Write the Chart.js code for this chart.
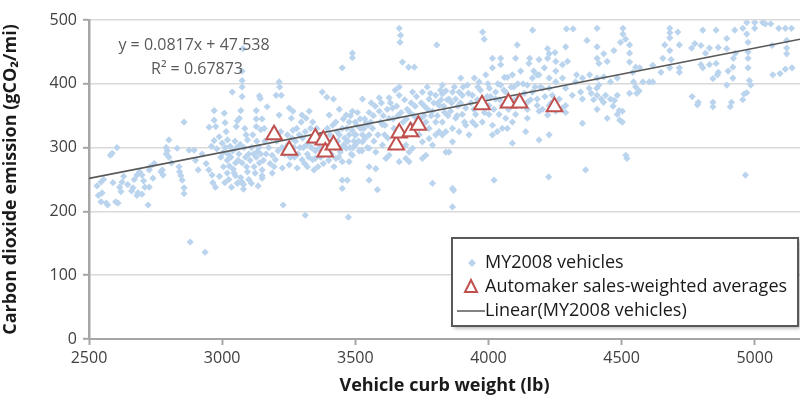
<!DOCTYPE html>
<html>
<head>
<meta charset="utf-8">
<script src="https://cdn.jsdelivr.net/npm/chart.js@4.4.1/dist/chart.umd.min.js"></script>
<style>
  html, body { margin: 0; padding: 0; background: #fff; }
  #wrap { width: 800px; height: 402px; }
</style>
</head>
<body>
<div id="wrap"><canvas id="chart" width="800" height="402"></canvas></div>
<script>
// MY2008 vehicles: [curb weight (lb), CO2 (g/mi)]
const vehicles = [
  [2530,240],[2535,225],[2545,246],[2545,215],[2549,229],[2555,250],[2565,213],[2570,210],[2580,288],[2587,291],
  [2590,245],[2600,215],[2605,300],[2609,213],[2615,238],[2620,231],[2624,246],[2630,255],[2645,242],[2660,232],
  [2665,237],[2670,250],[2680,257],[2680,225],[2684,229],[2690,262],[2699,257],[2699,227],[2705,248],[2710,238],
  [2722,210],[2726,238],[2726,265],[2730,270],[2740,252],[2745,275],
  [2770,262],[2775,265],[2778,257],[2790,300],[2790,290],[2794,295],[2800,285],[2800,312],[2810,276],[2831,299],
  [2838,270],[2840,262],[2845,256],[2850,249],[2857,237],[2857,228],[2857,340],[2876,296],[2880,152],[2895,296],
  [2900,280],[2910,265],[2925,290],[2936,136],[2940,275],[2950,265],[2951,332],[2960,302],[2962,257],
  [2965,245],[2970,358],[2970,343],[2970,311],[2975,238],[2976,333],[2980,298],[2989,317],[2990,255],[3000,307],
  [3005,270],[3008,354],[3010,245],[3011,339],[3019,280],[3019,260],[3020,312],[3025,250],[3027,271],[3030,302],
  [3035,238],[3038,387],[3042,266],[3045,260],[3050,276],[3050,256],[3053,333],[3057,342],[3057,244],[3060,280],
  [3060,245],[3065,346],[3070,358],[3070,253],[3075,420],[3075,405],[3075,395],[3075,380],[3075,276],[3075,246],
  [3078,455],[3080,242],[3080,235],[3085,330],[3090,320],[3095,312],[3095,262],[3100,250],[3100,290],[3110,244],
  [3110,300],[3120,270],[3124,260],[3128,358],[3128,345],[3128,333],[3128,285],[3133,294],[3135,240],[3140,381],
  [3140,276],[3143,377],[3145,328],[3150,345],[3150,265],[3150,256],[3150,252],
  [2995,285],[3003,292],[3012,300],[3015,325],[3022,290],[3033,285],[3040,295],[3048,310],[3055,300],[3063,290],
  [3068,305],[3082,300],[3088,285],[3092,270],[3105,280],[3115,320],[3118,290],[3130,310],[3138,300],[3145,290],
  [3155,280],[3158,330],
  [3160,310],[3165,290],[3169,364],[3175,300],[3180,275],[3188,288],[3188,260],[3195,270],[3200,281],[3203,382],
  [3210,295],[3214,403],[3214,351],[3216,395],[3222,382],[3226,268],[3229,210],[3240,300],[3245,320],[3252,362],
  [3252,273],[3255,285],[3260,346],[3260,286],[3266,357],[3266,327],[3270,300],[3275,310],[3282,268],[3285,290],
  [3290,320],[3297,340],[3300,351],[3300,281],[3305,300],[3310,275],[3312,194],[3315,346],[3320,270],[3320,290],
  [3327,357],[3330,310],[3335,300],[3340,340],[3340,281],[3345,265],[3350,283],[3350,295],
  [3185,315],[3195,330],[3205,310],[3220,325],[3225,300],[3235,290],[3248,305],[3262,315],[3272,285],[3280,330],
  [3292,300],[3302,315],[3312,325],[3318,305],[3325,285],[3332,330],[3342,310],[3348,320],
  [3355,330],[3360,270],[3364,299],[3370,285],[3376,387],[3376,293],[3380,275],[3390,305],[3393,379],[3400,280],
  [3402,351],[3405,320],[3410,290],[3418,376],[3420,270],[3427,340],[3427,283],[3435,310],[3440,360],[3440,320],
  [3444,293],[3450,300],[3451,425],[3451,330],[3451,278],[3451,249],[3451,236],[3460,315],[3466,351],[3466,299],
  [3470,249],[3474,191],[3477,340],[3477,320],[3477,278],[3480,300],[3485,290],[3489,448],[3489,441],[3489,357],
  [3489,327],[3489,288],[3495,310],[3500,304],[3500,340],[3502,320],[3508,355],[3515,295],[3520,330],[3527,376],
  [3527,320],[3527,309],[3535,345],[3540,339],[3545,300],
  [3358,312],[3368,300],[3372,320],[3385,290],[3395,330],[3398,300],[3412,310],[3415,335],[3425,300],[3432,325],
  [3438,285],[3455,345],[3458,305],[3468,330],[3472,310],[3482,350],[3492,300],[3498,320],[3505,335],[3512,310],
  [3518,345],[3525,295],[3532,330],[3538,315],[3548,335],
  [3552,355],[3552,320],[3552,299],[3552,270],[3552,249],[3560,370],[3565,330],[3570,310],[3577,293],[3577,267],
  [3583,234],[3590,378],[3590,357],[3595,340],[3602,336],[3602,304],[3610,320],[3615,283],[3620,360],[3627,346],
  [3627,378],[3627,288],[3635,300],[3640,362],[3645,330],[3650,390],[3660,350],[3665,382],[3665,395],[3665,278],
  [3665,487],[3670,476],[3668,465],[3677,434],[3680,340],[3690,304],[3690,283],[3695,360],[3700,426],[3702,293],
  [3702,278],[3710,370],[3715,387],[3715,299],[3720,350],[3722,426],[3730,380],[3740,330],[3740,320],[3745,345],
  [3558,340],[3568,350],[3575,365],[3585,320],[3598,370],[3605,350],[3612,335],[3622,315],[3632,370],[3642,345],
  [3655,365],[3672,355],[3685,375],[3692,345],[3705,355],[3712,335],[3725,365],[3732,345],[3748,370],
  [3752,387],[3752,309],[3752,283],[3760,365],[3765,340],[3765,288],[3770,395],[3777,376],[3777,330],[3777,314],
  [3785,350],[3790,357],[3790,304],[3790,244],[3802,382],[3802,340],[3802,320],[3806,461],[3810,370],[3815,366],
  [3815,325],[3820,390],[3827,398],[3827,340],[3827,320],[3827,384],[3835,355],[3840,389],[3840,325],[3840,293],
  [3845,375],[3852,376],[3852,293],[3858,357],[3865,387],[3865,330],[3865,309],[3865,236],[3865,207],[3869,233],
  [3877,376],[3877,346],[3885,365],[3890,387],[3890,325],[3896,409],[3902,382],[3902,352],[3910,340],[3915,362],
  [3915,335],[3921,398],[3927,320],[3935,370],[3940,382],[3940,340],[3947,409],
  [3758,350],[3772,360],[3782,385],[3795,370],[3808,350],[3822,375],[3832,365],[3848,350],[3862,370],[3872,395],
  [3882,350],[3895,370],[3905,395],[3925,385],[3945,360],
  [3952,352],[3952,335],[3960,395],[3965,403],[3965,371],[3977,340],[3978,481],[3984,470],[3990,414],[3995,380],
  [4002,366],[4002,352],[4004,393],[4015,425],[4015,440],[4015,335],[4015,320],[4021,249],[4027,387],[4027,376],
  [4033,325],[4040,352],[4046,440],[4046,430],[4046,398],[4052,366],[4052,330],[4060,410],[4065,387],[4065,346],
  [4071,410],[4071,330],[4080,370],[4090,414],[4090,340],[4090,307],[4095,395],[4102,440],[4102,352],[4108,461],
  [4115,380],[4121,420],[4130,400],[4140,325],[4146,398],[4146,371],[4146,360],[4146,346],
  [3958,375],[3970,390],[3985,355],[3998,400],[4008,380],[4020,360],[4035,400],[4042,375],[4058,390],[4075,360],
  [4085,395],[4098,375],[4110,400],[4125,365],[4135,385],[4158,375],[4170,420],[4195,395],[4212,380],[4235,370],
  [4152,432],[4155,440],[4165,409],[4165,387],[4166,484],[4175,395],[4183,414],[4183,376],[4183,366],[4190,438],
  [4190,414],[4190,357],[4190,312],[4203,393],[4203,360],[4210,425],[4222,455],[4222,440],[4222,351],[4226,254],
  [4228,447],[4228,409],[4228,393],[4228,366],[4228,320],[4240,382],[4250,449],[4253,435],[4253,420],[4253,403],
  [4253,357],[4266,376],[4278,430],[4278,409],[4278,362],[4290,458],[4290,393],[4290,366],[4290,355],[4293,486],
  [4297,435],[4315,382],[4318,486],[4327,403],[4331,414],[4346,387],
  [4353,409],[4353,376],[4353,338],[4365,265],[4370,468],[4378,393],[4380,414],[4386,385],[4395,375],[4407,393],
  [4408,487],[4408,458],[4408,440],[4408,409],[4408,382],[4408,360],[4415,432],[4415,398],[4424,376],[4432,371],
  [4433,447],[4433,411],[4440,382],[4446,435],[4446,346],[4458,403],[4458,376],[4468,365],[4471,452],[4473,374],
  [4484,409],[4484,382],[4484,352],[4491,358],[4493,343],[4496,465],[4503,357],[4503,340],[4505,487],[4505,478],
  [4515,470],[4516,288],[4520,283],[4530,461],[4530,448],[4530,434],[4530,385],[4542,418],[4545,403],
  [4553,426],[4553,395],[4557,385],[4566,389],[4568,425],[4580,403],[4604,403],[4617,429],[4617,403],[4648,418],
  [4655,440],[4662,461],[4681,487],[4681,480],[4681,472],[4681,452],[4686,438],[4681,425],[4711,481],[4717,461],
  [4717,425],[4717,418],[4763,456],[4765,380],[4775,463],[4785,367],[4788,371],[4798,460],[4798,430],
  [4805,484],[4805,425],[4815,448],[4830,456],[4830,430],[4843,408],[4843,371],[4843,364],[4855,484],[4855,432],
  [4860,414],[4863,457],[4863,418],[4895,471],[4895,455],[4895,398],[4900,420],[4908,364],[4913,371],[4918,426],
  [4918,409],[4920,440],[4925,484],[4928,448],[4955,487],[4955,375],[4960,384],[4965,257],[4970,496],[4970,478],
  [4970,386],[4975,465],[4975,450],[4975,440],[4975,425],[4980,405],[4985,398],[5000,487],[5000,496],[5030,496],
  [5040,494],[5060,494],[5065,460],[5068,414],[5090,487],[5095,416],[5115,487],[5115,423],[5120,468],[5120,456],
  [5120,447],[5138,487],[5140,425]
];

// automaker sales-weighted averages
const makerWeight = [3195, 3252, 3350, 3380, 3387, 3418, 3654, 3665, 3707, 3737, 3976, 4075, 4117, 4248];
const makerCO2 = [320, 296, 315, 312, 293, 304, 304, 323, 325, 335, 367, 370, 370, 364];

// trendline from the fitted equation
const slope = 0.0817;
const intercept = 47.538;
const trendX = [2500, 5170];
const eqLines = ["y = 0.0817x + 47.538", "R\u00b2 = 0.67873"];

const xTicks = [2500, 3000, 3500, 4000, 4500, 5000];
const legendLabels = ["MY2008 vehicles", "Automaker sales-weighted averages", "Linear(MY2008 vehicles)"];

const FONT = "'Open Sans', 'Liberation Sans', sans-serif";
const BLUE = "#bad4ee";
const RED = "#c0504d";
const GREY = "#595959";

const overlay = {
  id: "overlay",
  afterDatasetsDraw(chart) {
    const ctx = chart.ctx;
    ctx.save();
    // equation
    ctx.fillStyle = GREY;
    ctx.font = "16px " + FONT;
    ctx.textAlign = "center";
    ctx.textBaseline = "middle";
    ctx.fillText(eqLines[0], 194, 45);
    ctx.fillText(eqLines[1], 197, 69);

    // legend box
    const bx = 452, by = 238, bw = 346, bh = 88;
    ctx.save();
    ctx.shadowColor = "rgba(0,0,0,0.35)";
    ctx.shadowBlur = 4;
    ctx.shadowOffsetX = 2;
    ctx.shadowOffsetY = 2;
    ctx.fillStyle = "#fff";
    ctx.fillRect(bx, by, bw, bh);
    ctx.restore();
    ctx.strokeStyle = GREY;
    ctx.lineWidth = 2;
    ctx.strokeRect(bx, by, bw, bh);

    // diamond
    ctx.fillStyle = BLUE;
    ctx.beginPath();
    ctx.moveTo(472, 259); ctx.lineTo(476, 263); ctx.lineTo(472, 267); ctx.lineTo(468, 263);
    ctx.closePath();
    ctx.fill();
    // triangle
    ctx.strokeStyle = RED;
    ctx.lineWidth = 2;
    ctx.beginPath();
    ctx.moveTo(471, 280); ctx.lineTo(477, 292); ctx.lineTo(465, 292);
    ctx.closePath();
    ctx.stroke();
    // line
    ctx.strokeStyle = GREY;
    ctx.lineWidth = 1.5;
    ctx.beginPath();
    ctx.moveTo(457, 311); ctx.lineTo(485, 311);
    ctx.stroke();

    ctx.fillStyle = "#1a1a1a";
    ctx.font = "18px " + FONT;
    ctx.textAlign = "left";
    ctx.fillText(legendLabels[0], 485, 263);
    ctx.fillText(legendLabels[1], 485, 287);
    ctx.fillText(legendLabels[2], 485, 311);
    ctx.restore();
  }
};

new Chart(document.getElementById("chart"), {
  type: "scatter",
  data: {
    datasets: [
      {
        label: legendLabels[0],
        data: vehicles.map(p => ({ x: p[0], y: p[1] })),
        pointStyle: "rectRot",
        pointRadius: 3.6,
        backgroundColor: BLUE,
        borderColor: BLUE,
        borderWidth: 0,
        order: 3
      },
      {
        label: legendLabels[2],
        type: "line",
        data: trendX.map(x => ({ x, y: slope * x + intercept })),
        borderColor: GREY,
        borderWidth: 1.6,
        pointRadius: 0,
        fill: false,
        order: 2
      },
      {
        label: legendLabels[1],
        data: makerWeight.map((x, i) => ({ x, y: makerCO2[i] })),
        pointStyle: "triangle",
        pointRadius: 9,
        backgroundColor: "#fff",
        borderColor: RED,
        borderWidth: 2,
        order: 1
      }
    ]
  },
  options: {
    responsive: false,
    devicePixelRatio: 1,
    animation: false,
    layout: { autoPadding: false, padding: { top: 20, right: 0, left: 0, bottom: 0 } },
    plugins: {
      legend: { display: false },
      tooltip: { enabled: false }
    },
    scales: {
      x: {
        type: "linear",
        min: 2500,
        max: 5170,
        afterBuildTicks: scale => {
          scale.ticks = xTicks.map(v => ({ value: v }));
        },
        afterFit: scale => {
          scale.height = 63;
          scale.paddingLeft = 0;
          scale.paddingRight = 0;
        },
        ticks: {
          color: "#404040",
          font: { family: FONT, size: 16 },
          padding: 4,
          maxRotation: 0,
          callback: v => String(v)
        },
        grid: {
          drawOnChartArea: false,
          drawTicks: true,
          tickLength: 6,
          tickColor: "#a6a6a6",
          tickWidth: 2
        },
        border: { color: "#a6a6a6", width: 2 },
        title: {
          display: true,
          text: "Vehicle curb weight (lb)",
          color: "#1a1a1a",
          font: { family: FONT, size: 18, weight: "bold" },
          padding: { top: 0, bottom: 5 }
        }
      },
      y: {
        min: 0,
        max: 500,
        afterFit: scale => { scale.width = 89; },
        ticks: {
          stepSize: 100,
          color: "#404040",
          font: { family: FONT, size: 16 },
          padding: 6,
          callback: v => String(v)
        },
        grid: {
          color: "#d9d9d9",
          lineWidth: 1.6,
          tickLength: 6,
          tickColor: "#a6a6a6",
          tickWidth: 2
        },
        border: { color: "#a6a6a6", width: 2.5 },
        title: {
          display: true,
          text: "Carbon dioxide emission (gCO\u2082/mi)",
          color: "#1a1a1a",
          font: { family: FONT, size: 18, weight: "bold" },
          padding: { top: 0, bottom: 2 }
        }
      }
    }
  },
  plugins: [overlay]
});
</script>
</body>
</html>
